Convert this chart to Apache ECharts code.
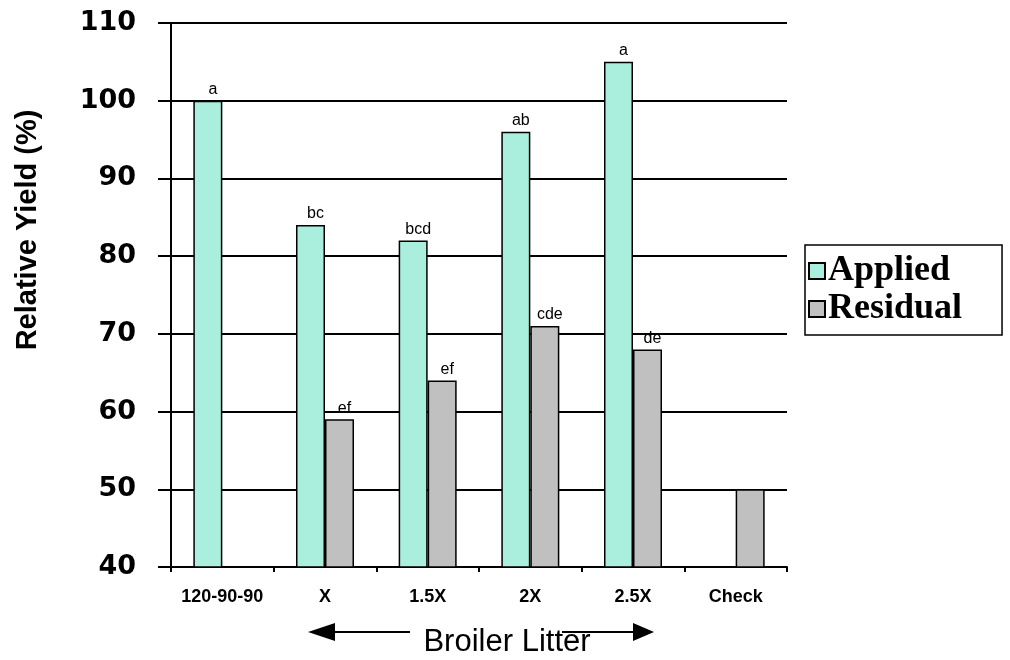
<!DOCTYPE html>
<html>
<head>
<meta charset="utf-8">
<script src="https://cdn.jsdelivr.net/npm/echarts@6/dist/echarts.min.js"></script>
<style>
html,body{margin:0;padding:0;background:#fff;}
#chart{width:1010px;height:660px;}
</style>
</head>
<body>
<div id="chart"></div>
<script>
const categories = ['120-90-90', 'X', '1.5X', '2X', '2.5X', 'Check'];
const appliedValues = [100, 84, 82, 96, 105, null];
const residualValues = [null, 59, 64, 71, 68, 50];
const appliedLetters = ['a', 'bc', 'bcd', 'ab', 'a', ''];
const residualLetters = ['', 'ef', 'ef', 'cde', 'de', ''];
const yTicks = [40, 50, 60, 70, 80, 90, 100, 110];

const chart = echarts.init(document.getElementById('chart'), null, {renderer: 'canvas'});

function letterLabel(letters) {
  return {
    show: true,
    position: 'top',
    distance: 3,
    offset: [5, 0],
    color: '#000',
    fontFamily: 'Liberation Sans, Arial, sans-serif',
    fontSize: 16,
    formatter: p => letters[p.dataIndex] || ''
  };
}

const option = {
  backgroundColor: '#fff',
  animation: false,
  grid: {left: 171, right: 223, top: 23, bottom: 93, containLabel: false},
  legend: {
    orient: 'vertical',
    left: 805,
    top: 245,
    padding: [8, 40, 8, 3],
    itemGap: 2,
    itemWidth: 16,
    itemHeight: 16,
    icon: 'rect',
    borderColor: '#000',
    borderWidth: 1.5,
    textStyle: {
      fontFamily: 'Liberation Serif, Times New Roman, serif',
      fontWeight: 'bold',
      fontSize: 36,
      color: '#000',
      padding: [0, 0, 0, -2]
    },
    data: ['Applied', 'Residual']
  },
  xAxis: {
    type: 'category',
    data: categories,
    boundaryGap: true,
    axisLine: {show: true, lineStyle: {color: '#000', width: 2}},
    axisTick: {show: true, interval: 0, length: 5, lineStyle: {color: '#000', width: 2}},
    axisLabel: {
      interval: 0,
      hideOverlap: false,
      margin: 21,
      color: '#000',
      fontFamily: 'Liberation Sans, Arial, sans-serif',
      fontWeight: 'bold',
      fontSize: 18
    },
    splitLine: {show: false}
  },
  yAxis: {
    type: 'value',
    min: yTicks[0],
    max: yTicks[yTicks.length - 1],
    interval: 10,
    axisLine: {show: true, lineStyle: {color: '#000', width: 2}},
    axisTick: {show: true, length: 13, lineStyle: {color: '#000', width: 2}},
    axisLabel: {
      margin: 35,
      color: '#000',
      fontFamily: 'DejaVu Sans, sans-serif',
      fontWeight: 'bold',
      fontSize: 27
    },
    splitLine: {show: true, lineStyle: {color: '#000', width: 2}}
  },
  series: [
    {
      name: 'Applied',
      type: 'bar',
      data: appliedValues,
      barWidth: 29,
      barGap: '0%',
      itemStyle: {color: '#aaeedd', borderColor: '#000', borderWidth: 1.5},
      label: letterLabel(appliedLetters)
    },
    {
      name: 'Residual',
      type: 'bar',
      data: residualValues,
      barWidth: 29,
      barGap: '0%',
      itemStyle: {color: '#c0c0c0', borderColor: '#000', borderWidth: 1.5},
      label: letterLabel(residualLetters)
    }
  ],
  graphic: [
    {
      type: 'text',
      x: 28, y: 230,
      rotation: Math.PI / 2,
      style: {
        text: 'Relative Yield (%)',
        fontFamily: 'Liberation Sans, Arial, sans-serif',
        fontWeight: 'bold',
        fontSize: 29,
        fill: '#000',
        align: 'center',
        verticalAlign: 'middle'
      }
    },
    {
      type: 'text',
      x: 507, y: 642,
      style: {
        text: 'Broiler Litter',
        fontFamily: 'Liberation Sans, Arial, sans-serif',
        fontSize: 31,
        fill: '#000',
        align: 'center',
        verticalAlign: 'middle'
      }
    },
    {
      type: 'line',
      shape: {x1: 333, y1: 632, x2: 410, y2: 632},
      style: {stroke: '#000', lineWidth: 2}
    },
    {
      type: 'polygon',
      shape: {points: [[308, 632], [335, 623], [335, 641]]},
      style: {fill: '#000'}
    },
    {
      type: 'line',
      shape: {x1: 562, y1: 632, x2: 635, y2: 632},
      style: {stroke: '#000', lineWidth: 2}
    },
    {
      type: 'polygon',
      shape: {points: [[633, 623], [633, 641], [654, 632]]},
      style: {fill: '#000'}
    }
  ]
};
chart.setOption(option);
</script>
</body>
</html>
